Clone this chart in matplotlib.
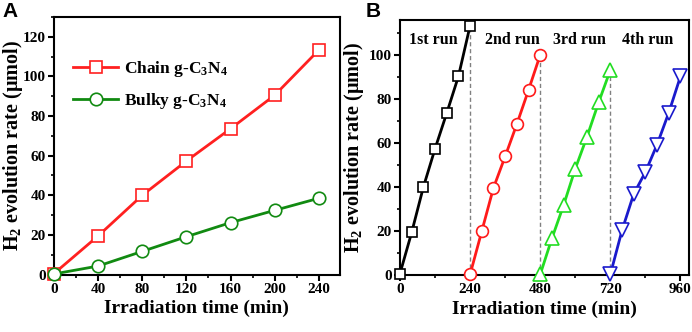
import matplotlib
matplotlib.use("Agg")
import matplotlib.pyplot as plt
from matplotlib.ticker import MultipleLocator

plt.rcParams['font.family'] = ['Liberation Serif', 'DejaVu Serif']
plt.rcParams['font.weight'] = 'bold'
plt.rcParams['mathtext.fontset'] = 'custom'
plt.rcParams['mathtext.rm'] = 'Liberation Serif:bold'
plt.rcParams['mathtext.it'] = 'Liberation Serif:bold'
plt.rcParams['mathtext.bf'] = 'Liberation Serif:bold'

# Panel A data
time_a = [0, 40, 80, 120, 160, 200, 240]
chain = [0.5, 19.5, 40, 57.3, 73.6, 90.5, 113.3]
bulky = [0.3, 4.3, 11.7, 19.1, 26.2, 32.4, 38.5]

# Panel B data (4 cycles)
run1_t = [0, 40, 80, 120, 160, 200, 240]
run1_y = [0.6, 19.3, 39.9, 57.4, 73.6, 90.3, 113.4]
run2_t = [240, 280, 320, 360, 400, 440, 480]
run2_y = [0.2, 19.9, 39.6, 53.9, 68.6, 84.1, 100.1]
run3_t = [480, 520, 560, 600, 640, 680, 720]
run3_y = [0.2, 16.6, 31.7, 48.3, 62.8, 78.5, 93.2]
run4_t = [720, 760, 800, 840, 880, 920, 960]
run4_y = [0.2, 20.3, 36.8, 46.8, 59.3, 73.8, 90.3]
run_labels = ["1st run", "2nd run", "3rd run", "4th run"]
run_label_x = [114, 385, 614, 846]

fig = plt.figure(figsize=(6.92, 3.32), dpi=100)
axA = fig.add_axes([0.078, 0.173, 0.413, 0.776])
axB = fig.add_axes([0.578, 0.172, 0.418, 0.768])

ylab = r"H$_2$ evolution rate ($\mathregular{\mu}$mol)"

def style(ax):
    for s in ax.spines.values():
        s.set_linewidth(1.5)
    ax.tick_params(which='major', direction='out', length=4, width=1.5, labelsize=11, pad=2)
    ax.tick_params(which='minor', direction='out', length=2.5, width=1.2)
    for lbl in ax.get_xticklabels() + ax.get_yticklabels():
        lbl.set_fontweight('bold')

# Panel A
axA.plot(time_a, chain, color='#ff2020', lw=2, marker='s', ms=8.5, mfc='white',
         mec='#ff2020', mew=1.2, label=r"Chain g-C$_3$N$_4$", clip_on=False, zorder=3)
axA.plot(time_a, bulky, color='#118a11', lw=2, marker='o', ms=9, mfc='white',
         mec='#118a11', mew=1.2, label=r"Bulky g-C$_3$N$_4$", clip_on=False, zorder=3)
axA.set_xlim(0, 259)
axA.set_ylim(0, 130)
axA.xaxis.set_major_locator(MultipleLocator(40))
axA.xaxis.set_minor_locator(MultipleLocator(20))
axA.yaxis.set_major_locator(MultipleLocator(20))
axA.yaxis.set_minor_locator(MultipleLocator(10))
axA.set_xlabel("Irradiation time (min)", fontsize=14, fontweight='bold', labelpad=3)
axA.set_ylabel(ylab, fontsize=14.5, fontweight='bold')
axA.yaxis.set_label_coords(-0.103, 0.5)
style(axA)
axA.legend(loc='upper left', bbox_to_anchor=(0.013, 0.897), frameon=False,
           prop={'family': 'Liberation Serif', 'weight': 'bold', 'size': 12.5},
           handlelength=2.6, labelspacing=0.7, handletextpad=0.3)

# Panel B
runs = [(run1_t, run1_y, 'black', 's', 7.5), (run2_t, run2_y, '#ff1a1a', 'o', 8.5),
        (run3_t, run3_y, '#22dd22', '^', 9.5), (run4_t, run4_y, '#1a1acc', 'v', 9.5)]
for t, y, c, m, ms in runs:
    axB.plot(t, y, color=c, lw=2, marker=m, ms=ms, mfc='white', mec=c, mew=1.2,
             clip_on=False, zorder=3)
for t, y, _, _, _ in runs[:3]:
    axB.plot([t[-1], t[-1]], [0, y[-1]], color='gray', lw=1, ls=(0, (3, 2)), zorder=2)
for lbl, x in zip(run_labels, run_label_x):
    axB.text(x, 107, lbl, ha='center', va='center', fontsize=11.5, fontweight='bold')
axB.set_xlim(0, 990)
axB.set_ylim(0, 116)
axB.xaxis.set_major_locator(MultipleLocator(240))
axB.xaxis.set_minor_locator(MultipleLocator(120))
axB.yaxis.set_major_locator(MultipleLocator(20))
axB.yaxis.set_minor_locator(MultipleLocator(10))
axB.set_xlabel("Irradiation time (min)", fontsize=14, fontweight='bold', labelpad=3)
axB.set_ylabel(ylab, fontsize=14.5, fontweight='bold')
axB.yaxis.set_label_coords(-0.118, 0.5)
style(axB)

fig.text(0.003, 0.995, "A", fontsize=15, fontweight='bold', family='Liberation Sans', va='top', ha='left')
fig.text(0.528, 0.995, "B", fontsize=15, fontweight='bold', family='Liberation Sans', va='top', ha='left')

fig.savefig("out.png", dpi=100)
